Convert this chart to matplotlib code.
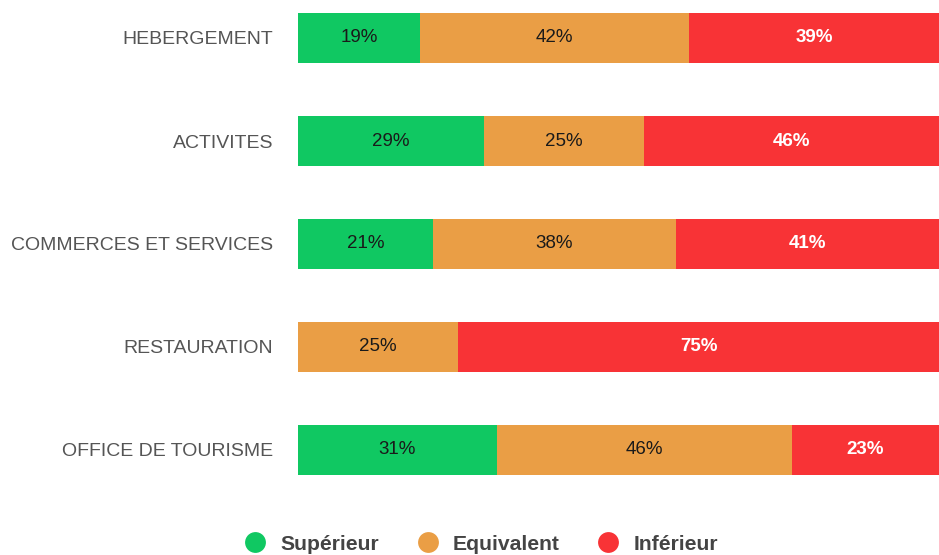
import matplotlib.pyplot as plt
from matplotlib.lines import Line2D

plt.rcParams['font.family'] = ['Liberation Sans', 'DejaVu Sans']

# data
categories = ['HEBERGEMENT', 'ACTIVITES', 'COMMERCES ET SERVICES',
              'RESTAURATION', 'OFFICE DE TOURISME']
series = ['Supérieur', 'Equivalent', 'Inférieur']
superieur = [19, 29, 21, 0, 31]
equivalent = [42, 25, 38, 25, 46]
inferieur = [39, 46, 41, 75, 23]

colors = ['#10c862', '#ea9e45', '#f83336']
text_colors = ['#1a1a1a', '#1a1a1a', 'white']

fig = plt.figure(figsize=(9.39, 5.55), dpi=100)
ax = fig.add_axes([298 / 939, 1 - 475 / 555, 641 / 939, 462 / 555])

bar_h = 50 / 103
ypos = list(range(len(categories)))
left = [0] * len(categories)
for vals, col, tcol in zip([superieur, equivalent, inferieur], colors, text_colors):
    bars = ax.barh(ypos, vals, left=left, height=bar_h, color=col, edgecolor='none')
    for b, v in zip(bars, vals):
        if v > 0:
            ax.text(b.get_x() + b.get_width() / 2, b.get_y() + b.get_height() / 2,
                    f'{v}%', ha='center', va='center', fontsize=13.5,
                    color=tcol, fontweight='bold' if tcol == 'white' else 'normal')
    left = [l + v for l, v in zip(left, vals)]

ax.set_xlim(0, 100)
ax.set_ylim(len(categories) - 1 + bar_h / 2, -bar_h / 2)
ax.set_yticks(ypos)
ax.set_yticklabels(categories, fontsize=14, color='#555555')
ax.tick_params(axis='y', length=0, pad=18)
ax.set_xticks([])
for s in ax.spines.values():
    s.set_visible(False)

handles = [Line2D([], [], marker='o', linestyle='none', markersize=15,
                  markerfacecolor=c, markeredgecolor='none') for c in colors]
leg = fig.legend(handles, series, loc='center', bbox_to_anchor=(476 / 939, 1 - 544 / 555),
                 ncol=3, frameon=False, handletextpad=0.2, columnspacing=1.3,
                 prop={'size': 15.2, 'weight': 'bold'})
for t in leg.get_texts():
    t.set_color('#444444')

fig.savefig('out.png', dpi=100)
